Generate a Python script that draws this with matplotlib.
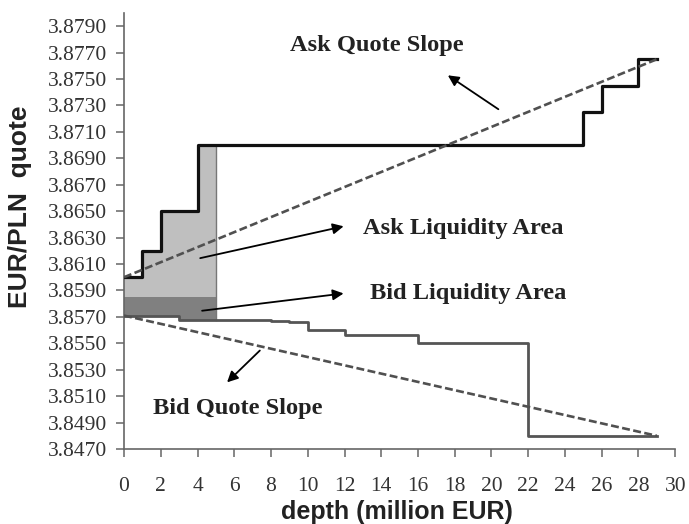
import numpy as np
import matplotlib
matplotlib.use("Agg")
import matplotlib.pyplot as plt

# order book data (EUR/PLN)
ask_depth = [0, 1, 2, 4, 25, 26, 28, 29]
ask_quote = [3.8600, 3.8620, 3.8650, 3.8700, 3.8725, 3.8745, 3.8765, 3.8765]

bid_depth = [0, 3, 8, 9, 10, 12, 16, 22, 29]
bid_quote = [3.8571, 3.8568, 3.8567, 3.8566, 3.8560, 3.8556, 3.8550, 3.8480, 3.8480]

mid_quote = 3.8585
liq_depth = 5  # depth used for the liquidity areas

ask_slope_x = [0, 29]
ask_slope_y = [3.8600, 3.8765]
bid_slope_x = [0, 29]
bid_slope_y = [3.8571, 3.8480]

x_ticks = list(range(0, 31, 2))
y_ticks = [3.8470, 3.8490, 3.8510, 3.8530, 3.8550, 3.8570, 3.8590, 3.8610,
           3.8630, 3.8650, 3.8670, 3.8690, 3.8710, 3.8730, 3.8750, 3.8770, 3.8790]


def step_value(xs, ys, x):
    i = np.searchsorted(xs, x, side="right") - 1
    return ys[i]


serif = "Liberation Serif"
sans = "Liberation Sans"
txt_col = "#222222"

fig = plt.figure(figsize=(6.89, 5.24), dpi=100)
ax = fig.add_axes([0.180, 0.1431, 0.800, 0.8321])

# liquidity areas
fx = [x for x in ask_depth if x < liq_depth] + [liq_depth]
ask_top = [step_value(ask_depth, ask_quote, x) for x in fx]
bx = [x for x in bid_depth if x < liq_depth] + [liq_depth]
bid_bot = [step_value(bid_depth, bid_quote, x) for x in bx]
ax.fill_between(fx, mid_quote, ask_top, step="post", color="#bfbfbf", lw=0, zorder=1)
ax.fill_between(bx, bid_bot, mid_quote, step="post", color="#808080", lw=0, zorder=1)
ax.plot([liq_depth, liq_depth], [bid_bot[-1], ask_top[-1]], color="#777777", lw=1.0, zorder=2)

# order book curves
ax.step(ask_depth, ask_quote, where="post", color="#111111", lw=2.3, zorder=4)
ax.step(bid_depth, bid_quote, where="post", color="#555555", lw=2.0, zorder=4)

# quote slopes
ax.plot(ask_slope_x, ask_slope_y, color="#505050", lw=1.9, ls=(0, (3, 1.3)), zorder=5)
ax.plot(bid_slope_x, bid_slope_y, color="#505050", lw=1.9, ls=(0, (3, 1.3)), zorder=5)

# labels with arrows
arrow = dict(arrowstyle="-|>", color="black", lw=1.3, mutation_scale=16)
ax.annotate("", xy=(17.5, 3.8754), xytext=(20.5, 3.8726), arrowprops=arrow, zorder=6)
ax.annotate("", xy=(12.1, 3.8639), xytext=(4.0, 3.8614), arrowprops=arrow, zorder=6)
ax.annotate("", xy=(12.1, 3.8588), xytext=(4.1, 3.85744), arrowprops=arrow, zorder=6)
ax.annotate("", xy=(5.5, 3.8519), xytext=(7.5, 3.8546), arrowprops=arrow, zorder=6)

lab = dict(family=serif, fontsize=17.6, fontweight="bold", color=txt_col,
           ha="center", va="center")
ax.text(13.77, 3.87756, "Ask Quote Slope", **lab)
ax.text(18.45, 3.86372, "Ask Liquidity Area", **lab)
ax.text(18.73, 3.85880, "Bid Liquidity Area", **lab)
ax.text(6.21, 3.85010, "Bid Quote Slope", **lab)

# axes styling
ax.set_xlim(0, 30)
ax.set_ylim(3.847, 3.880)
ax.set_xticks(x_ticks)
ax.set_yticks(y_ticks)
ax.set_yticklabels([f"{v:.4f}" for v in y_ticks])
for s in ["top", "right"]:
    ax.spines[s].set_visible(False)
for s in ["left", "bottom"]:
    ax.spines[s].set_color("#666666")
    ax.spines[s].set_linewidth(1.2)
ax.tick_params(axis="both", direction="out", length=6, width=1.1, color="#666666",
               labelcolor="#333333", labelsize=15.5)
ax.tick_params(axis="x", pad=14)
ax.tick_params(axis="y", pad=6)
for t in ax.get_xticklabels() + ax.get_yticklabels():
    t.set_family(serif)

ax.set_xlabel("depth (million EUR)", family=sans, fontsize=18, fontweight="bold",
              color=txt_col)
ax.set_ylabel("EUR/PLN  quote", family=sans, fontsize=19, fontweight="bold",
              color=txt_col)
ax.xaxis.set_label_coords(0.495, -0.118)
ax.yaxis.set_label_coords(-0.167, 0.555)

fig.savefig("out.png", dpi=100)
